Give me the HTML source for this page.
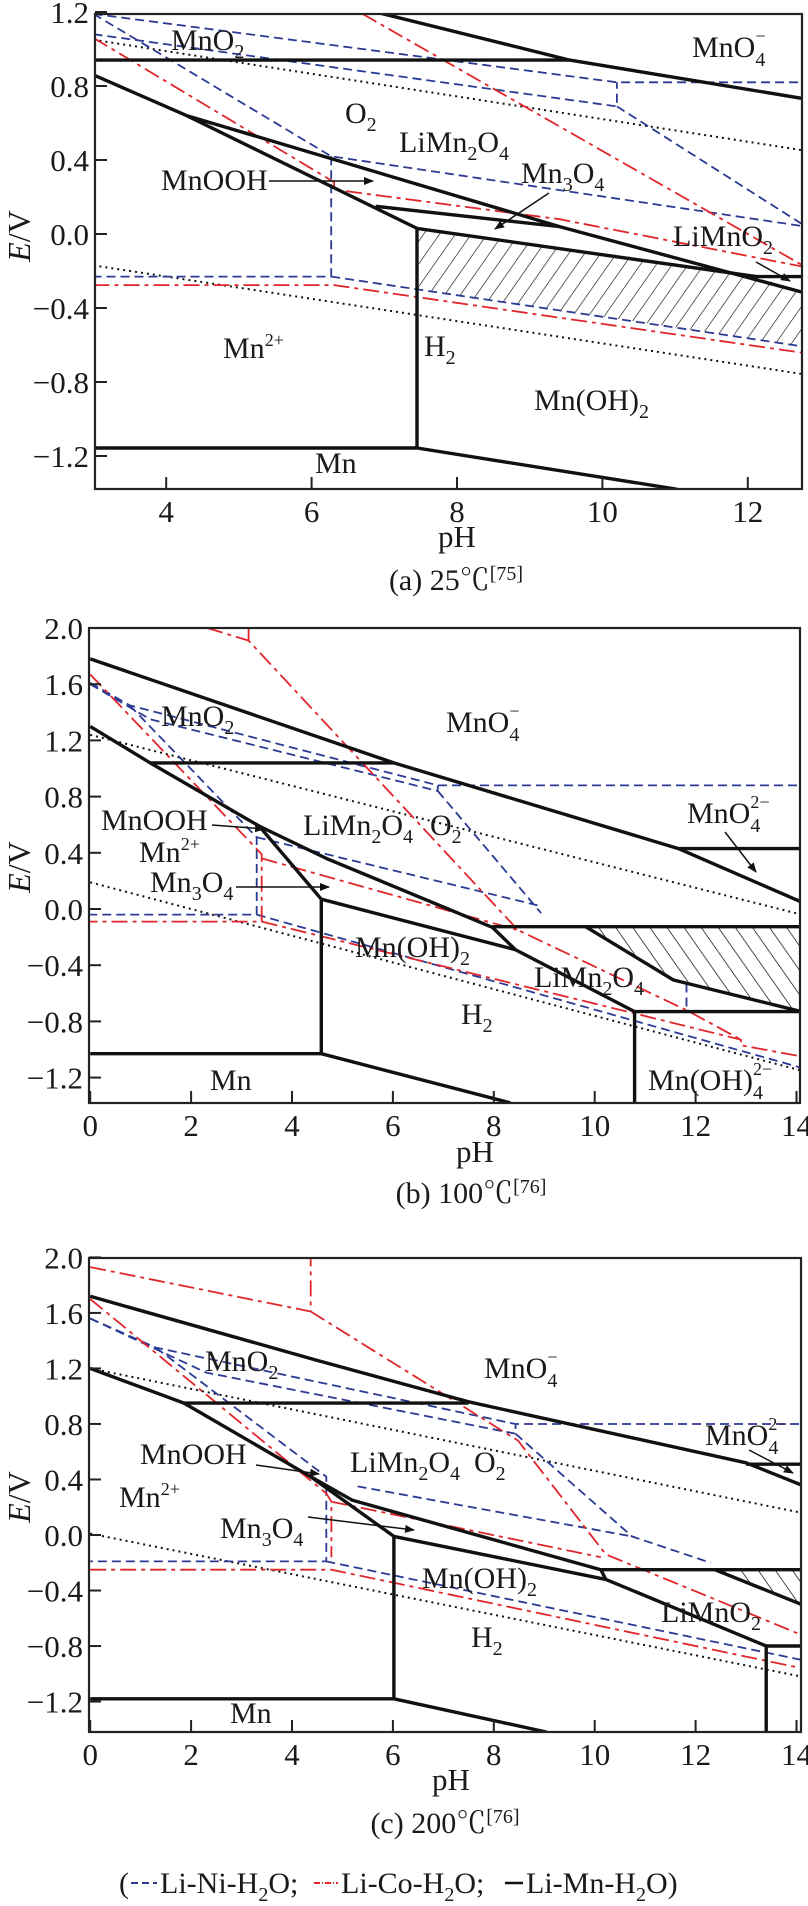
<!DOCTYPE html>
<html><head><meta charset="utf-8"><style>
html,body{margin:0;padding:0;background:#fff;}
svg{display:block;font-family:"Liberation Serif",serif;}
.cap{font-family:"Liberation Serif","Noto Serif CJK SC",serif;}
</style></head><body>
<svg id="chart" width="808" height="1906" viewBox="0 0 808 1906" xmlns="http://www.w3.org/2000/svg">
<defs>
<pattern id="hatchA" patternUnits="userSpaceOnUse" width="13" height="13" patternTransform="rotate(35)"><line x1="0" y1="0" x2="0" y2="13" stroke="#111" stroke-width="1.3"/></pattern>
<pattern id="hatchB" patternUnits="userSpaceOnUse" width="14" height="14" patternTransform="rotate(-35)"><line x1="0" y1="0" x2="0" y2="14" stroke="#111" stroke-width="1.5"/></pattern>
<marker id="arr" markerWidth="10" markerHeight="8" refX="9" refY="4" orient="auto" markerUnits="userSpaceOnUse"><path d="M0,0 L10,4 L0,8 z" fill="#111"/></marker>
<clipPath id="clipA"><rect x="95" y="14" width="707" height="475"/></clipPath>
<clipPath id="clipB"><rect x="89" y="628" width="711" height="475"/></clipPath>
<clipPath id="clipC"><rect x="89" y="1258" width="712" height="474"/></clipPath>
</defs>
<g id="layer"></g>
<g id="labels" font-size="30" fill="#1a1a1a">
<text x="171" y="50">MnO<tspan font-size="20" dy="8">2</tspan></text>
<text x="692" y="57">MnO<tspan font-size="20" dy="9">4</tspan><tspan font-size="18" dx="-10" dy="-24">−</tspan></text>
<text x="345" y="123">O<tspan font-size="20" dy="8">2</tspan></text>
<text x="399" y="152">LiMn<tspan font-size="20" dy="8">2</tspan><tspan dy="-8">O</tspan><tspan font-size="20" dy="8">4</tspan></text>
<text x="161" y="190">MnOOH</text>
<line x1="269" y1="181" x2="373" y2="181" stroke="#111" stroke-width="1.5" marker-end="url(#arr)"/>
<text x="521" y="183">Mn<tspan font-size="20" dy="8">3</tspan><tspan dy="-8">O</tspan><tspan font-size="20" dy="8">4</tspan></text>
<line x1="549" y1="193" x2="495" y2="229" stroke="#111" stroke-width="1.5" marker-end="url(#arr)"/>
<text x="673" y="246">LiMnO<tspan font-size="20" dy="8">2</tspan></text>
<line x1="756" y1="262" x2="790" y2="281" stroke="#111" stroke-width="1.5" marker-end="url(#arr)"/>
<text x="223" y="358">Mn<tspan font-size="18" dy="-12">2+</tspan></text>
<text x="424" y="356">H<tspan font-size="20" dy="8">2</tspan></text>
<text x="534" y="410">Mn(OH)<tspan font-size="20" dy="8">2</tspan></text>
<text x="315" y="473">Mn</text>
<text transform="translate(30,236) rotate(-90)" text-anchor="middle" font-size="32"><tspan font-style="italic">E</tspan>/V</text>
<text x="457" y="547" text-anchor="middle" font-size="31">pH</text>
<text class="cap" x="456" y="590" text-anchor="middle" font-size="30">(a) 25℃<tspan font-size="20" dy="-10">[75]</tspan></text>
<text x="161" y="726">MnO<tspan font-size="20" dy="8">2</tspan></text>
<text x="446" y="732">MnO<tspan font-size="20" dy="9">4</tspan><tspan font-size="18" dx="-10" dy="-24">−</tspan></text>
<text x="687" y="823">MnO<tspan font-size="20" dy="9">4</tspan><tspan font-size="18" dx="-10" dy="-24">2−</tspan></text>
<line x1="725" y1="832" x2="756" y2="872" stroke="#111" stroke-width="1.5" marker-end="url(#arr)"/>
<text x="101" y="830">MnOOH</text>
<line x1="212" y1="825" x2="264" y2="829" stroke="#111" stroke-width="1.5" marker-end="url(#arr)"/>
<text x="303" y="835">LiMn<tspan font-size="20" dy="8">2</tspan><tspan dy="-8">O</tspan><tspan font-size="20" dy="8">4</tspan></text>
<text x="430" y="835">O<tspan font-size="20" dy="8">2</tspan></text>
<text x="139" y="862">Mn<tspan font-size="18" dy="-12">2+</tspan></text>
<text x="150" y="892">Mn<tspan font-size="20" dy="8">3</tspan><tspan dy="-8">O</tspan><tspan font-size="20" dy="8">4</tspan></text>
<line x1="236" y1="887" x2="329" y2="887" stroke="#111" stroke-width="1.5" marker-end="url(#arr)"/>
<text x="355" y="957">Mn(OH)<tspan font-size="20" dy="8">2</tspan></text>
<text x="534" y="987">LiMn<tspan font-size="20" dy="8">2</tspan><tspan dy="-8">O</tspan><tspan font-size="20" dy="8">4</tspan></text>
<text x="461" y="1024">H<tspan font-size="20" dy="8">2</tspan></text>
<text x="210" y="1090">Mn</text>
<text x="648" y="1090">Mn(OH)<tspan font-size="20" dy="9">4</tspan><tspan font-size="18" dx="-10" dy="-24">2−</tspan></text>
<text transform="translate(30,867) rotate(-90)" text-anchor="middle" font-size="32"><tspan font-style="italic">E</tspan>/V</text>
<text x="475" y="1162" text-anchor="middle" font-size="31">pH</text>
<text class="cap" x="471" y="1203" text-anchor="middle" font-size="30">(b) 100℃<tspan font-size="20" dy="-10">[76]</tspan></text>
<text x="205" y="1371">MnO<tspan font-size="20" dy="8">2</tspan></text>
<text x="484" y="1378">MnO<tspan font-size="20" dy="9">4</tspan><tspan font-size="18" dx="-10" dy="-24">−</tspan></text>
<text x="705" y="1445">MnO<tspan font-size="20" dy="9">4</tspan><tspan font-size="18" dx="-10" dy="-24">2−</tspan></text>
<line x1="749" y1="1450" x2="793" y2="1473" stroke="#111" stroke-width="1.5" marker-end="url(#arr)"/>
<text x="140" y="1464">MnOOH</text>
<line x1="256" y1="1465" x2="319" y2="1474" stroke="#111" stroke-width="1.5" marker-end="url(#arr)"/>
<text x="350" y="1472">LiMn<tspan font-size="20" dy="8">2</tspan><tspan dy="-8">O</tspan><tspan font-size="20" dy="8">4</tspan></text>
<text x="474" y="1472">O<tspan font-size="20" dy="8">2</tspan></text>
<text x="119" y="1507">Mn<tspan font-size="18" dy="-12">2+</tspan></text>
<text x="220" y="1538">Mn<tspan font-size="20" dy="8">3</tspan><tspan dy="-8">O</tspan><tspan font-size="20" dy="8">4</tspan></text>
<line x1="308" y1="1517" x2="414" y2="1530" stroke="#111" stroke-width="1.5" marker-end="url(#arr)"/>
<text x="422" y="1588">Mn(OH)<tspan font-size="20" dy="8">2</tspan></text>
<text x="661" y="1622">LiMnO<tspan font-size="20" dy="8">2</tspan></text>
<text x="471" y="1647">H<tspan font-size="20" dy="8">2</tspan></text>
<text x="230" y="1723">Mn</text>
<text transform="translate(30,1497) rotate(-90)" text-anchor="middle" font-size="32"><tspan font-style="italic">E</tspan>/V</text>
<text x="451" y="1790" text-anchor="middle" font-size="31">pH</text>
<text class="cap" x="445" y="1833" text-anchor="middle" font-size="30">(c) 200℃<tspan font-size="20" dy="-10">[76]</tspan></text>
<g>
<text x="119" y="1893" font-size="30">(</text>
<line x1="131" y1="1883" x2="157" y2="1883" stroke="#2b3a92" stroke-width="2" stroke-dasharray="7,4"/>
<text x="160" y="1893" font-size="30">Li-Ni-H<tspan font-size="20" dy="8">2</tspan><tspan dy="-8">O;</tspan></text>
<line x1="314" y1="1883" x2="338" y2="1883" stroke="#e0262b" stroke-width="2" stroke-dasharray="6,2,1,2"/>
<text x="341" y="1893" font-size="30">Li-Co-H<tspan font-size="20" dy="8">2</tspan><tspan dy="-8">O;</tspan></text>
<line x1="505" y1="1883" x2="523" y2="1883" stroke="#111" stroke-width="2.5"/>
<text x="526" y="1893" font-size="30">Li-Mn-H<tspan font-size="20" dy="8">2</tspan><tspan dy="-8">O)</tspan></text>
</g>
</g>
</svg>
<script>
const aMn = [
 [[6.88,1.2],[9.55,0.94],[12.8,0.73]],
 [[3.0,0.94],[9.55,0.94]],
 [[3.0,0.86],[4.28,0.64],[7.45,0.03],[7.45,-1.157]],
 [[4.28,0.64],[9.41,0.04],[12.8,-0.32]],
 [[6.88,0.15],[9.41,0.04]],
 [[7.45,0.03],[12.12,-0.23],[12.8,-0.23]],
 [[3.0,-1.157],[7.45,-1.157],[11.03,-1.38]]
];
const aNi = [
 [[3.0,1.19],[6.27,0.42],[12.8,0.04]],
 [[6.27,0.42],[6.27,-0.23],[3.0,-0.23]],
 [[6.27,-0.23],[12.8,-0.61]],
 [[3.0,1.19],[10.2,0.82],[12.8,0.82]],
 [[3.0,1.08],[10.2,0.69],[10.2,0.82]],
 [[10.2,0.69],[12.8,0.04]]
];
const aCo = [
 [[3.0,1.06],[6.31,0.28],[6.31,0.24],[9.41,0.08],[12.8,-0.18]],
 [[6.7,1.19],[12.8,-0.18]],
 [[3.0,-0.276],[6.31,-0.276],[12.8,-0.645]]
];
const aWater = [
 [[3.0,1.05],[12.8,0.45]],
 [[3.0,-0.17],[12.8,-0.76]]
];
const aHatch = [[7.45,0.03],[12.12,-0.23],[12.8,-0.32],[12.8,-0.61],[7.45,-0.297]];
const aYTicks = [1.2,0.8,0.4,0.0,-0.4,-0.8,-1.2];
const aXTicks = [4,6,8,10,12];

const bMn = [
 [[0,1.78],[6.02,1.04],[11.66,0.43],[14.1,0.05]],
 [[11.66,0.43],[14.1,0.43]],
 [[1.19,1.04],[6.02,1.04]],
 [[0,1.30],[1.19,1.04],[3.35,0.59],[4.58,0.07],[4.58,-1.03]],
 [[3.35,0.59],[4.68,0.36],[7.97,-0.13],[8.43,-0.29],[10.79,-0.73],[10.79,-1.38]],
 [[4.58,0.07],[8.43,-0.29]],
 [[7.97,-0.126],[14.1,-0.126]],
 [[9.82,-0.126],[11.56,-0.505],[14.1,-0.73]],
 [[10.79,-0.73],[14.1,-0.73]],
 [[0,-1.03],[4.58,-1.03],[8.33,-1.38]]
];
const bNi = [
 [[0,1.61],[0.78,1.45],[6.89,0.88],[14.1,0.88]],
 [[0,1.60],[1.19,1.35],[6.89,0.84],[6.89,0.88]],
 [[6.89,0.84],[8.94,-0.03]],
 [[0.78,1.45],[3.30,0.51],[3.30,-0.04],[0,-0.04]],
 [[3.30,0.51],[8.94,0.02]],
 [[3.30,-0.04],[14.1,-1.13]],
 [[11.82,-0.53],[11.82,-0.73]]
];
const bCo = [
 [[2.32,2.0],[3.14,1.91],[8.48,-0.15],[11.82,-0.72],[12.9,-0.93]],
 [[3.14,2.0],[3.14,1.91]],
 [[0,1.67],[3.40,0.39],[3.40,-0.09],[0,-0.09]],
 [[3.40,0.36],[8.48,-0.15]],
 [[3.40,-0.09],[12.9,-0.93],[12.9,-0.97],[14.1,-1.05]]
];
const bWater = [
 [[0,1.24],[14.1,-0.04]],
 [[0,0.19],[14.1,-1.15]]
];
const bHatch = [[9.82,-0.126],[14.1,-0.126],[14.1,-0.73],[11.56,-0.505]];
const bYTicks = [2.0,1.6,1.2,0.8,0.4,0.0,-0.4,-0.8,-1.2];
const bXTicks = [0,2,4,6,8,10,12,14];

const cMn = [
 [[0,1.72],[4.48,1.26],[7.5,0.96],[13.0,0.52],[14.1,0.36]],
 [[1.86,0.95],[7.5,0.95]],
 [[13.0,0.51],[14.1,0.51]],
 [[0,1.20],[1.86,0.95],[4.37,0.42],[6.02,-0.01],[6.02,-1.18]],
 [[4.37,0.42],[5.2,0.25],[10.12,-0.25],[10.22,-0.32],[13.4,-0.80],[13.4,-1.45]],
 [[6.02,-0.01],[10.22,-0.32]],
 [[10.12,-0.25],[14.1,-0.25]],
 [[12.38,-0.25],[14.1,-0.5]],
 [[13.4,-0.80],[14.1,-0.80]],
 [[0,-1.18],[6.02,-1.18],[9.05,-1.42]]
];
const cNi = [
 [[0,1.56],[1.3,1.35],[8.43,0.80],[14.1,0.80]],
 [[0,1.56],[2.3,1.17],[8.43,0.73],[8.43,0.80]],
 [[8.43,0.73],[10.74,-0.01],[12.3,-0.2]],
 [[1.3,1.35],[4.68,0.42],[4.68,-0.19],[0,-0.19]],
 [[5.3,0.35],[10.74,-0.01]],
 [[4.68,-0.19],[14.1,-0.90]]
];
const cCo = [
 [[0,1.93],[4.37,1.61],[4.37,2.0]],
 [[4.37,1.61],[8.48,0.68],[10.22,-0.14],[14.1,-0.72]],
 [[0,1.70],[4.68,0.30],[4.78,0.24],[4.78,-0.16]],
 [[4.78,0.24],[10.12,-0.16]],
 [[0,-0.25],[4.78,-0.25],[14.1,-0.96]]
];
const cWater = [
 [[0,1.20],[14.1,0.16]],
 [[0,0.01],[14.1,-1.02]]
];
const cHatch = [[12.38,-0.25],[14.1,-0.25],[14.1,-0.5]];
const cYTicks = [2.0,1.6,1.2,0.8,0.4,0.0,-0.4,-0.8,-1.2];
const cXTicks = [0,2,4,6,8,10,12,14];

const NS = 'http://www.w3.org/2000/svg';
const layer = document.getElementById('layer');

function mk(tag, attrs, parent){
  const el = document.createElementNS(NS, tag);
  for (const k in attrs) el.setAttribute(k, attrs[k]);
  parent.appendChild(el);
  return el;
}

function drawPanel(id, ax, mn, ni, co, water, hatch, hatchPat, yT, xT){
  const xs = pH => ax.x0 + pH * ax.kx;
  const ys = E => ax.y0 - E * ax.ky;
  const g = mk('g', {}, layer);
  
  
  const cg = mk('g', {'clip-path': 'url(#clip' + id.toUpperCase() + ')'}, g);
  const pts = arr => arr.map(p => xs(p[0]).toFixed(1) + ',' + ys(p[1]).toFixed(1)).join(' ');
  const hp = mk('polygon', {points: pts(hatch), fill: 'url(#' + hatchPat + ')', stroke: 'none'}, cg);
  
  
  water.forEach(line => {
    const el = mk('polyline', {points: pts(line), fill: 'none', stroke: '#111', 'stroke-width': 2, 'stroke-dasharray': '2,4'}, cg);
    
    
  });
  ni.forEach(line => {
    const el = mk('polyline', {points: pts(line), fill: 'none', stroke: '#2b3a92', 'stroke-width': 1.8, 'stroke-dasharray': '9,5'}, cg);
    
    
  });
  co.forEach(line => {
    const el = mk('polyline', {points: pts(line), fill: 'none', stroke: '#e0262b', 'stroke-width': 1.8, 'stroke-dasharray': '16,5,4,5'}, cg);
    
    
  });
  mn.forEach(line => {
    const el = mk('polyline', {points: pts(line), fill: 'none', stroke: '#111', 'stroke-width': 3.4, 'stroke-linejoin': 'round'}, cg);
    
    
  });
  const fr = mk('rect', {x: ax.L, y: ax.T, width: ax.R - ax.L, height: ax.B - ax.T, fill: 'none', stroke: '#222', 'stroke-width': 2.2}, g);
  
  
  yT.forEach(v => {
    const y = ys(v);
    const t = mk('line', {x1: ax.L, x2: ax.L + 12, y1: y, y2: y, stroke: '#222', 'stroke-width': 2}, g);
    
    
    const lb = mk('text', {x: ax.L - 6, y: y + 11, 'text-anchor': 'end', 'font-size': 31, fill: '#1a1a1a'}, g);
    
    
    lb.textContent = (v < 0 ? '−' : '') + Math.abs(v).toFixed(1);
  });
  xT.forEach(v => {
    const x = xs(v);
    const t = mk('line', {x1: x, x2: x, y1: ax.B, y2: ax.B - 12, stroke: '#222', 'stroke-width': 2}, g);
    
    
    const lb = mk('text', {x: x, y: ax.B + 33, 'text-anchor': 'middle', 'font-size': 31, fill: '#1a1a1a'}, g);
    
    
    lb.textContent = String(v);
  });
}

drawPanel('a', {x0: -124.6, kx: 72.7, y0: 234, ky: 185, L: 95, R: 802, T: 14, B: 489},
  aMn, aNi, aCo, aWater, aHatch, 'hatchA', aYTicks, aXTicks);
drawPanel('b', {x0: 90.2, kx: 50.45, y0: 909, ky: 140.5, L: 89, R: 800, T: 628, B: 1103},
  bMn, bNi, bCo, bWater, bHatch, 'hatchB', bYTicks, bXTicks);
drawPanel('c', {x0: 90.2, kx: 50.45, y0: 1535, ky: 138.8, L: 89, R: 801, T: 1258, B: 1732},
  cMn, cNi, cCo, cWater, cHatch, 'hatchB', cYTicks, cXTicks);
</script>
</body></html>
